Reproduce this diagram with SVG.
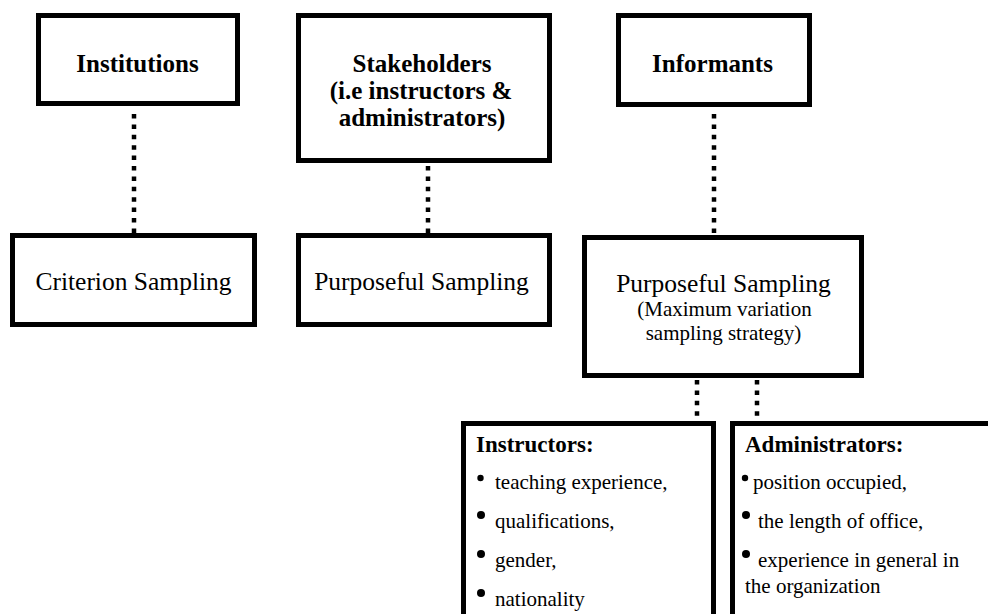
<svg xmlns="http://www.w3.org/2000/svg" width="988" height="614" viewBox="0 0 988 614">
<style>
.box{fill:#fff;stroke:#000;stroke-width:5}
.dot{stroke:#000;stroke-width:4.5;stroke-dasharray:4.5 5.9;fill:none}
.t{font-family:"Liberation Serif","Times New Roman",serif;fill:#000}
.b{font-weight:bold}
.c{text-anchor:middle}
.big{font-size:25.5px}
.hd{font-size:25px}
.sm{font-size:21px}
.lh{font-size:23px}
</style>
<rect x="0" y="0" width="988" height="614" fill="#fff"/>
<g id="connectors">
<line class="dot" x1="134" y1="114" x2="134" y2="234"/>
<line class="dot" x1="428" y1="166" x2="428" y2="234"/>
<line class="dot" x1="714" y1="114" x2="714" y2="236"/>
<line class="dot" x1="697" y1="380" x2="697" y2="422"/>
<line class="dot" x1="757" y1="380" x2="757" y2="422"/>
</g>
<g id="institutions">
<rect class="box" x="38.5" y="15.5" width="199" height="88"/>
<text class="t b c hd" x="137.5" y="72">Institutions</text>
</g>
<g id="criterion">
<rect class="box" x="12.5" y="235.5" width="242" height="89"/>
<text class="t c big" x="133.5" y="290">Criterion Sampling</text>
</g>
<g id="stakeholders">
<rect class="box" x="298.5" y="15.5" width="251" height="145"/>
<text class="t b c hd" x="422" y="72">Stakeholders</text>
<text class="t b c hd" x="421" y="99">(i.e instructors &amp;</text>
<text class="t b c hd" x="422" y="126">administrators)</text>
</g>
<g id="purposeful1">
<rect class="box" x="298.5" y="235.5" width="251" height="89"/>
<text class="t c big" x="421.5" y="290">Purposeful Sampling</text>
</g>
<g id="informants">
<rect class="box" x="618.5" y="15.5" width="191" height="89"/>
<text class="t b c hd" x="712.5" y="72">Informants</text>
</g>
<g id="purposeful2">
<rect class="box" x="584.5" y="237.5" width="277" height="138"/>
<text class="t c big" x="723.5" y="292">Purposeful Sampling</text>
<text class="t c sm" x="724.5" y="316">(Maximum variation</text>
<text class="t c sm" x="723.5" y="340">sampling strategy)</text>
</g>
<g id="instructors">
<rect class="box" x="463.5" y="423.5" width="250" height="200"/>
<text class="t b lh" x="476" y="452">Instructors:</text>
<circle cx="480.5" cy="478" r="3.2"/>
<text class="t sm" x="495" y="489">teaching experience,</text>
<circle cx="481" cy="515" r="4"/>
<text class="t sm" x="495" y="528">qualifications,</text>
<circle cx="481" cy="554" r="4"/>
<text class="t sm" x="495" y="567">gender,</text>
<circle cx="481" cy="593" r="4"/>
<text class="t sm" x="495" y="606">nationality</text>
</g>
<g id="administrators">
<rect class="box" x="732.5" y="423.5" width="300" height="200"/>
<text class="t b lh" x="745" y="452">Administrators:</text>
<circle cx="745" cy="478" r="3.2"/>
<text class="t sm" x="753" y="489">position occupied,</text>
<circle cx="746" cy="515" r="4"/>
<text class="t sm" x="758" y="528">the length of office,</text>
<circle cx="746" cy="554" r="4"/>
<text class="t sm" x="758" y="567">experience in general in</text>
<text class="t sm" x="745" y="593">the organization</text>
</g>
</svg>
